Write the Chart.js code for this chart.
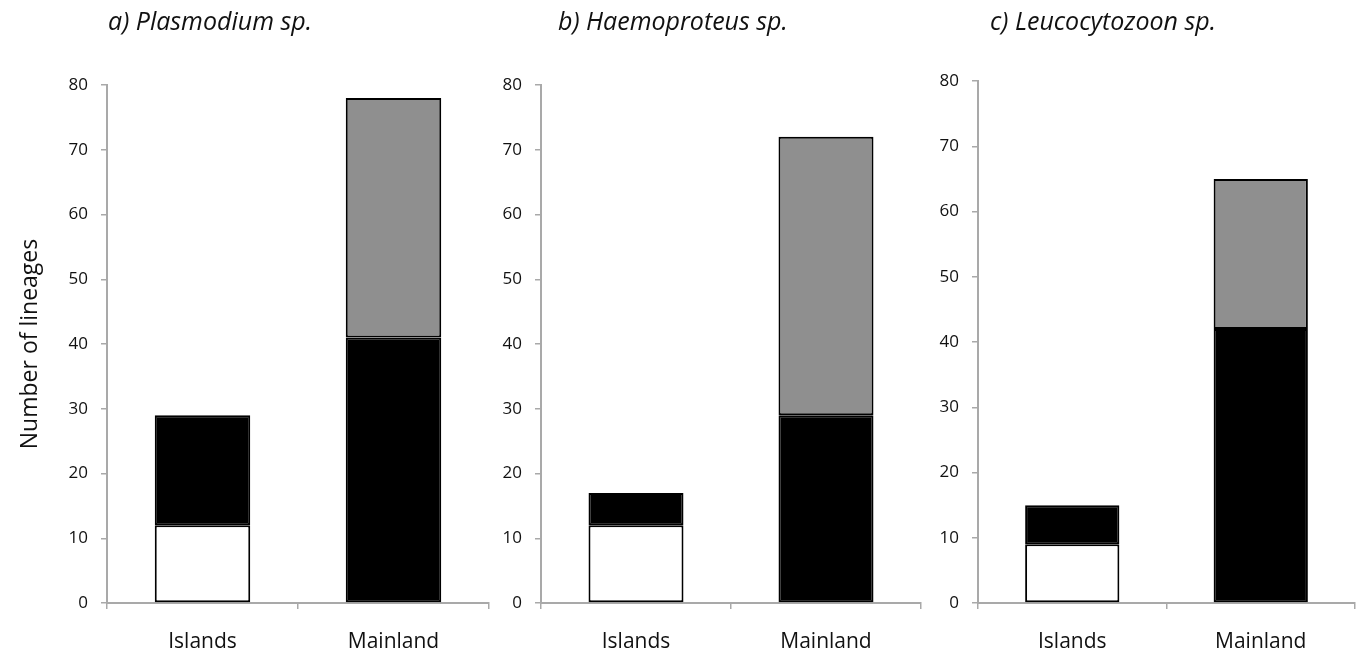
<!DOCTYPE html>
<html>
<head>
<meta charset="utf-8">
<script src="https://cdn.jsdelivr.net/npm/chart.js@4.4.1/dist/chart.umd.min.js"></script>
<style>
  body { margin: 0; background: #fff; }
  #wrap { position: relative; width: 1360px; height: 658px; overflow: hidden; }
  .box { position: absolute; top: 0; height: 658px; }
  .ttl { position: absolute; top: 3px; font-family: 'Open Sans', sans-serif; font-style: italic; font-size: 25px; color: #111; white-space: nowrap; }
</style>
</head>
<body>
<div id="wrap">
  <div class="box" style="left:0px;width:500px"><canvas id="chartA"></canvas></div>
  <div class="box" style="left:500px;width:430px"><canvas id="chartB"></canvas></div>
  <div class="box" style="left:930px;width:430px"><canvas id="chartC"></canvas></div>
  <div class="ttl" style="left:108px">a) Plasmodium sp.</div>
  <div class="ttl" style="left:558px">b) Haemoproteus sp.</div>
  <div class="ttl" style="left:990px">c) Leucocytozoon sp.</div>
</div>
<script>
'use strict';

// categories
var places = ['Islands', 'Mainland'];
var yTicks = [0, 10, 20, 30, 40, 50, 60, 70, 80];

// a) Plasmodium
var plasWhite = [12, null];
var plasBlack = [17, 41];
var plasGrey = [null, 37];
// b) Haemoproteus
var haemWhite = [12, null];
var haemBlack = [5, 29];
var haemGrey = [null, 43];
// c) Leucocytozoon
var leucWhite = [9, null];
var leucBlack = [6, 42];
var leucGrey = [null, 23];

var font = "'Open Sans', sans-serif";
var axisGrey = '#a9a9a9';

function makeSets(white, black, grey) {
    var common = { borderColor: '#000', borderWidth: 2, borderSkipped: false, barPercentage: 0.5, categoryPercentage: 1 };
    return [
        Object.assign({ label: 'white', data: white, backgroundColor: '#ffffff' }, common),
        Object.assign({ label: 'black', data: black, backgroundColor: '#000000' }, common),
        Object.assign({ label: 'grey', data: grey, backgroundColor: '#8f8f8f' }, common)
    ];
}

function makeChart(id, white, black, grey, opt) {
    var ctx = document.getElementById(id).getContext('2d');
    return new Chart(ctx, {
        type: 'bar',
        data: { labels: places, datasets: makeSets(white, black, grey) },
        options: {
            responsive: true,
            maintainAspectRatio: false,
            animation: false,
            layout: { padding: { top: opt.top, right: opt.right, left: 0, bottom: 0 } },
            plugins: { legend: { display: false }, tooltip: { enabled: false } },
            scales: {
                x: {
                    stacked: true,
                    grid: { offset: true, drawOnChartArea: false, drawTicks: true, tickLength: 6, color: axisGrey, lineWidth: 1.5 },
                    border: { color: axisGrey, width: 2 },
                    ticks: { color: '#111', font: { family: font, size: 21 }, padding: 20 },
                    afterFit: function (scale) { scale.height = 55; }
                },
                y: {
                    stacked: true,
                    min: 0,
                    max: 80,
                    afterBuildTicks: function (scale) { scale.ticks = yTicks.map(function (v) { return { value: v }; }); },
                    grid: { drawOnChartArea: false, drawTicks: true, tickLength: 6, color: axisGrey, lineWidth: 1.5 },
                    border: { color: axisGrey, width: 2 },
                    ticks: { color: '#111', font: { family: font, size: 17 }, padding: 13 },
                    title: opt.yTitle ? { display: true, text: 'Number of lineages', color: '#111', font: { family: font, size: 23 }, padding: { top: 17, bottom: 0 } } : { display: false },
                    afterFit: function (scale) { scale.width = opt.axisW; }
                }
            }
        }
    });
}

makeChart('chartA', plasWhite, plasBlack, plasGrey, { top: 85, right: 11, axisW: 107, yTitle: true });
makeChart('chartB', haemWhite, haemBlack, haemGrey, { top: 85, right: 9, axisW: 41, yTitle: false });
makeChart('chartC', leucWhite, leucBlack, leucGrey, { top: 81, right: 5, axisW: 48, yTitle: false });
</script>
</body>
</html>
